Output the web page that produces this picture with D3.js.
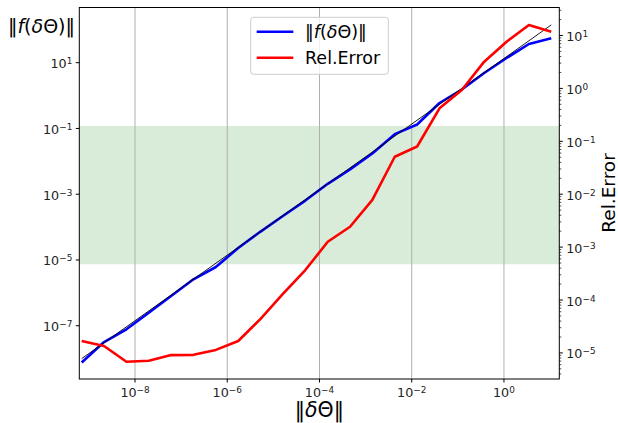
<!DOCTYPE html>
<html lang="en">
<head>
<meta charset="UTF-8">
<title>Finite difference check</title>
<script src="https://d3js.org/d3.v7.min.js"></script>
<style>
  body { margin: 0; background: white; }
  svg { font-family: "DejaVu Sans", sans-serif; }
</style>
</head>
<body>
<svg width="618" height="423"></svg>
<script>
// ||dTheta|| sample points (x axis)
const dTheta = [6.98e-10, 2.13e-9, 6.51e-9, 1.99e-8, 6.07e-8, 1.85e-7, 5.66e-7, 1.73e-6,
  5.28e-6, 1.61e-5, 4.93e-5, 1.51e-4, 4.60e-4, 1.40e-3, 4.29e-3, 1.31e-2, 4.0e-2,
  0.122, 0.373, 1.14, 3.48, 10.6];
// ||f(dTheta)|| (left axis)
const normF = [7.6e-9, 3.19e-8, 7.8e-8, 2.47e-7, 8.0e-7, 2.58e-6, 6.1e-6, 2.31e-5,
  7.3e-5, 2.17e-4, 6.4e-4, 2.07e-3, 5.7e-3, 1.73e-2, 6.7e-2, 0.132, 0.594,
  1.53, 4.86, 13.9, 37.1, 55.2];
// relative error (right axis)
const relErr = [1.68e-5, 1.35e-5, 6.8e-6, 7.1e-6, 9.1e-6, 9.2e-6, 1.14e-5, 1.68e-5,
  4.4e-5, 1.30e-4, 3.69e-4, 1.26e-3, 2.43e-3, 7.8e-3, 5.1e-2, 7.98e-2, 0.42,
  0.93, 3.2, 7.6, 15.8, 11.8];
// thin black reference line (end points)
const refX = [6.98e-10, 10.6];
const refY = [1.0e-8, 141];
// shaded band on left axis
const band = [7.4e-6, 0.119];

const xTicks = [-8, -6, -4, -2, 0];
const yLeftTicks = [1, -1, -3, -5, -7];
const yRightTicks = [1, 0, -1, -2, -3, -4, -5];

const L = 79.3, R = 559.3, T = 7.5, B = 379;
const svg = d3.select("svg");

const x = d3.scaleLog().domain([10 ** -9.208, 10 ** 1.2]).range([L, R]);
const yL = d3.scaleLog().domain([10 ** -8.621, 10 ** 2.679]).range([B, T]);
const yR = d3.scaleLog().domain([10 ** -5.493, 10 ** 1.529]).range([B, T]);

svg.append("defs").append("clipPath").attr("id", "plot")
  .append("rect").attr("x", L).attr("y", T).attr("width", R - L).attr("height", B - T);

// band
svg.append("rect")
  .attr("x", L).attr("width", R - L)
  .attr("y", yL(band[1])).attr("height", yL(band[0]) - yL(band[1]))
  .attr("fill", "green").attr("fill-opacity", 0.15);

// vertical grid
svg.append("g").selectAll("line").data(xTicks).join("line")
  .attr("x1", d => x(10 ** d)).attr("x2", d => x(10 ** d))
  .attr("y1", T).attr("y2", B)
  .attr("stroke", "#b0b0b0").attr("stroke-width", 1);

const plot = svg.append("g").attr("clip-path", "url(#plot)");

const lineL = d3.line().x(d => x(d[0])).y(d => yL(d[1]));
const lineR = d3.line().x(d => x(d[0])).y(d => yR(d[1]));

plot.append("path")
  .datum(d3.zip(dTheta, normF))
  .attr("d", lineL).attr("fill", "none")
  .attr("stroke", "#0000ff").attr("stroke-width", 2.6).attr("stroke-linejoin", "round");

plot.append("path")
  .datum(d3.zip(refX, refY))
  .attr("d", lineL).attr("fill", "none")
  .attr("stroke", "black").attr("stroke-width", 0.9);

plot.append("path")
  .datum(d3.zip(dTheta, relErr))
  .attr("d", lineR).attr("fill", "none")
  .attr("stroke", "#ff0000").attr("stroke-width", 2.6).attr("stroke-linejoin", "round");

// frame
svg.append("rect")
  .attr("x", L).attr("y", T).attr("width", R - L).attr("height", B - T)
  .attr("fill", "none").attr("stroke", "black").attr("stroke-width", 1);

function powLabel(sel, e) {
  sel.append("tspan").text("10");
  sel.append("tspan").attr("font-size", "0.7em").attr("dy", "-0.45em")
    .text(e < 0 ? "\u2212" + (-e) : String(e));
}

// x ticks
const gx = svg.append("g");
xTicks.forEach(e => {
  const px = x(10 ** e);
  gx.append("line").attr("x1", px).attr("x2", px).attr("y1", B).attr("y2", B + 3.5)
    .attr("stroke", "black");
  gx.append("text").attr("x", px).attr("y", B + 18).attr("text-anchor", "middle")
    .attr("font-size", 12.7).attr("fill", "#222").call(powLabel, e);
});

// left ticks
const gl = svg.append("g");
yLeftTicks.forEach(e => {
  const py = yL(10 ** e);
  gl.append("line").attr("x1", L - 3.5).attr("x2", L).attr("y1", py).attr("y2", py)
    .attr("stroke", "black");
  gl.append("text").attr("x", L - 7).attr("y", py + 5.5).attr("text-anchor", "end")
    .attr("font-size", 12.7).attr("fill", "#222").call(powLabel, e);
});

// right ticks (major + minor)
const gr = svg.append("g");
const [r0, r1] = yR.domain();
for (let e = -6; e <= 2; e++) {
  for (let m = 1; m <= 9; m++) {
    const v = m * 10 ** e;
    if (v < r0 || v > r1) continue;
    const py = yR(v);
    gr.append("line").attr("x1", R).attr("x2", R + (m === 1 ? 3.5 : 2))
      .attr("y1", py).attr("y2", py).attr("stroke", "black").attr("stroke-width", m === 1 ? 1 : 0.7);
  }
}
yRightTicks.forEach(e => {
  const py = yR(10 ** e);
  gr.append("text").attr("x", R + 7).attr("y", py + 5.5).attr("text-anchor", "start")
    .attr("font-size", 12.7).attr("fill", "#222").call(powLabel, e);
});

// axis labels
const xl = svg.append("text").attr("x", (L + R) / 2).attr("y", 417)
  .attr("text-anchor", "middle").attr("font-size", 20.5);
xl.append("tspan").text("\u2016");
xl.append("tspan").attr("font-style", "italic").text("\u03b4");
xl.append("tspan").text("\u0398\u2016");

function fLabel(t) {
  t.append("tspan").text("\u2016");
  t.append("tspan").attr("font-style", "italic").text("f");
  t.append("tspan").text("(");
  t.append("tspan").attr("font-style", "italic").text("\u03b4");
  t.append("tspan").text("\u0398)\u2016");
}

svg.append("text").attr("x", 75).attr("y", 33).attr("text-anchor", "end")
  .attr("font-size", 19).call(fLabel);

svg.append("text")
  .attr("transform", `translate(${615},${193}) rotate(-90)`)
  .attr("text-anchor", "middle").attr("font-size", 18.5).text("Rel.Error");

// legend
const lg = svg.append("g");
lg.append("rect").attr("x", 250.7).attr("y", 17.3).attr("width", 137.6).attr("height", 57)
  .attr("rx", 3).attr("fill", "white").attr("fill-opacity", 0.8)
  .attr("stroke", "#cccccc").attr("stroke-width", 1);
const legendItems = [
  { color: "#0000ff", y: 31.7, label: fLabel },
  { color: "#ff0000", y: 57.7, label: t => t.text("Rel.Error") }
];
legendItems.forEach(it => {
  lg.append("line").attr("x1", 256.7).attr("x2", 293.3).attr("y1", it.y).attr("y2", it.y)
    .attr("stroke", it.color).attr("stroke-width", 2.6);
  lg.append("text").attr("x", 305).attr("y", it.y + 6.3).attr("font-size", 17.5).call(it.label);
});
</script>
</body>
</html>
